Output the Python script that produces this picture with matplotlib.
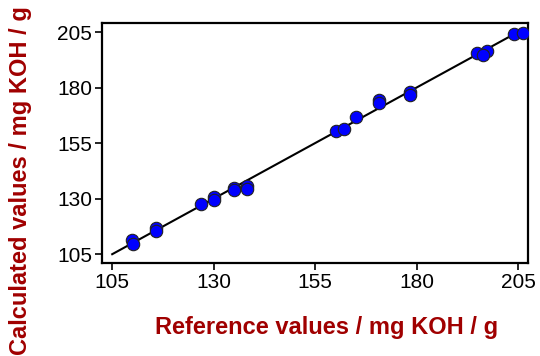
import matplotlib
matplotlib.use("Agg")
import matplotlib.pyplot as plt

# reference vs. calculated values (mg KOH / g)
reference = [109.9, 110.1, 115.7, 115.7, 127.0, 130.0, 130.0, 135.0, 135.0,
             138.1, 138.1, 160.1, 162.2, 165.1, 170.8, 170.8, 178.3, 178.3,
             195.0, 197.3, 196.4, 203.9, 206.2]
calculated = [111.3, 109.5, 116.9, 115.4, 127.6, 130.9, 129.4, 134.9, 133.9,
              135.8, 134.5, 160.5, 161.2, 166.8, 174.5, 173.0, 177.9, 176.7,
              195.5, 196.3, 194.8, 204.1, 204.4]
line_x = [105, 205]
ticks = [105, 130, 155, 180, 205]

label_color = "#a00000"

plt.rcParams["font.family"] = ["Liberation Sans", "DejaVu Sans"]

fig = plt.figure(figsize=(5.4, 3.56), dpi=100)
ax = fig.add_axes([0.189, 0.261, 0.789, 0.674])

ax.plot(line_x, line_x, color="black", lw=1.5, zorder=2)
ax.scatter(reference, calculated, s=80, color="#0000ff",
           edgecolors="#222222", linewidths=0.8, zorder=3)

ax.set_xlim(102.5, 207.5)
ax.set_ylim(101, 209)
ax.set_xticks(ticks)
ax.set_yticks(ticks)
ax.tick_params(direction="out", length=5, width=1.2, pad=2, labelsize=15)
for sp in ax.spines.values():
    sp.set_linewidth(1.6)

ax.set_xlabel("Reference values / mg KOH / g", color=label_color,
              fontsize=17, fontweight="bold")
ax.set_ylabel("Calculated values / mg KOH / g", color=label_color,
              fontsize=17, fontweight="bold")
# labels sit off-centre relative to the axes in the original
ax.xaxis.set_label_coords(0.526, -0.22)
ax.yaxis.set_label_coords(-0.165, 0.345)

fig.savefig("out.png", dpi=100)
